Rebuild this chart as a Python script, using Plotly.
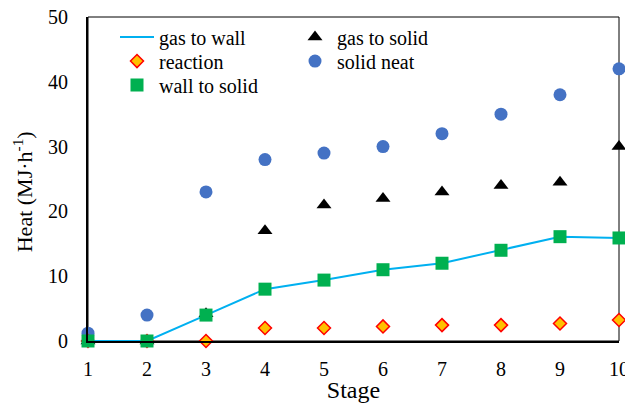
import plotly.graph_objects as go

# Heat balance per stage (MJ/h)
stages = [1, 2, 3, 4, 5, 6, 7, 8, 9, 10]
gas_to_wall = [0, 0, 4, 8, 9.4, 11, 12, 14, 16.1, 15.9]
reaction = [0, 0, 0, 2.0, 2.0, 2.25, 2.45, 2.45, 2.7, 3.25]
wall_to_solid = [0, 0, 4, 8, 9.4, 11, 12, 14, 16.1, 15.9]
gas_to_solid = [0, 0, 4.2, 17, 21, 22, 23, 24, 24.5, 30]
solid_neat = [1.2, 4, 23, 28, 29, 30, 32, 35, 38, 42]

y_ticks = [0, 10, 20, 30, 40, 50]
serif = "Liberation Serif"

# plot area in pixels (for placing legend entries)
PLOT_L, PLOT_W = 88, 531
PLOT_B, PLOT_H = 340.5, 323.5


def px_x(px):
    return (px - PLOT_L) / PLOT_W


def px_y(py):
    return (PLOT_B - py) / PLOT_H


fig = go.Figure()

fig.add_trace(go.Scatter(
    x=stages, y=solid_neat, name="solid neat", mode="markers",
    marker=dict(symbol="circle", size=13, color="#4472C4"),
    legend="legend5", cliponaxis=False,
))
fig.add_trace(go.Scatter(
    x=stages, y=gas_to_solid, name="gas to solid", mode="markers",
    marker=dict(symbol="triangle-up", size=13, color="#000000"),
    legend="legend4", cliponaxis=False,
))
fig.add_trace(go.Scatter(
    x=stages, y=reaction, name="reaction", mode="markers",
    marker=dict(symbol="diamond", size=10, color="#FFC000",
                line=dict(color="#FF0000", width=1.5)),
    legend="legend2", cliponaxis=False,
))
fig.add_trace(go.Scatter(
    x=stages, y=gas_to_wall, name="gas to wall", mode="lines",
    line=dict(color="#00B0F0", width=2),
    legend="legend", showlegend=True, cliponaxis=False,
))
fig.add_trace(go.Scatter(
    x=stages, y=wall_to_solid, name="wall to solid", mode="markers",
    marker=dict(symbol="square", size=13, color="#00B050"),
    legend="legend3", cliponaxis=False,
))

# thin frame on top/right
fig.add_shape(type="rect", xref="paper", yref="paper", x0=0, x1=1, y0=0, y1=1,
              line=dict(color="#000000", width=1), layer="below")

# y-axis title
fig.add_annotation(
    text="Heat (MJ·h<sup>-1</sup>)", textangle=-90,
    xref="paper", yref="paper", x=px_x(23), y=px_y(192),
    xanchor="center", yanchor="middle", showarrow=False,
    font=dict(size=22, family=serif, color="#000000"),
)


def legend_at(px, py):
    return dict(x=px_x(px), y=px_y(py), xanchor="left", yanchor="middle",
                bgcolor="rgba(0,0,0,0)", font=dict(size=20, family=serif),
                itemwidth=34, visible=True)


fig.update_layout(
    width=625, height=403,
    margin=dict(l=88, r=6, t=17, b=62),
    paper_bgcolor="white", plot_bgcolor="white",
    font=dict(family=serif, size=20, color="#000000"),
    showlegend=True,
    legend=legend_at(115, 37),
    legend2=legend_at(115, 61),
    legend3=legend_at(115, 85),
    legend4=legend_at(293, 37),
    legend5=legend_at(293, 61),
    xaxis=dict(
        range=[1, 10], tickmode="array", tickvals=stages,
        ticks="", showgrid=False, zeroline=False,
        showline=True, linecolor="#000000", linewidth=2,
        ticklabelstandoff=9, automargin=False, ticklabeloverflow="allow",
        tickfont=dict(size=20, family=serif),
        title=dict(text="Stage", font=dict(size=24, family=serif), standoff=0),
    ),
    yaxis=dict(
        range=[0, 50], tickmode="array", tickvals=y_ticks,
        ticks="", showgrid=False, zeroline=False,
        showline=True, linecolor="#000000", linewidth=2,
        ticklabelstandoff=14, automargin=False, ticklabeloverflow="allow",
        tickfont=dict(size=20, family=serif),
    ),
)

fig.write_html("out.html")
